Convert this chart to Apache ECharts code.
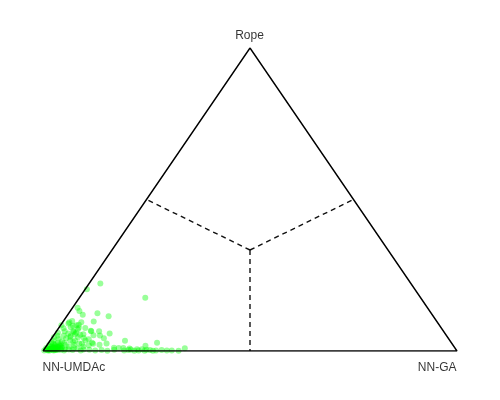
<!DOCTYPE html>
<html>
<head>
<meta charset="utf-8">
<script src="https://cdn.jsdelivr.net/npm/echarts@6/dist/echarts.min.js"></script>
<style>
  html, body { margin: 0; padding: 0; background: #fff; }
  #chart { width: 500px; height: 400px; }
</style>
</head>
<body>
<div id="chart"></div>
<script>
// corner labels (left, right, top)
const vertexNames = ['NN-UMDAc', 'NN-GA', 'Rope'];

// share of NN-GA and Rope for each run, in percent (NN-UMDAc = the rest)
const gaPct = [
  // dense cluster at the NN-UMDAc corner
  0.5, 1, 1.5, 2, 2.5, 3, 1, 2, 3, 3.5, 0.3, 1.2, 2.2, 4, 4.5, 0.8, 1.8, 3, 5, 5.5,
  0.5, 2.8, 3.8, 1.5, 2.5, 4.2, 6, 6.5, 1, 2.5, 3.5, 4.8, 0.4, 7, 5.8, 0.6, 2, 3.2, 4.2, 7.5,
  8, 1.2, 2.8, 5, 6.2, 0.2, 3.8, 8.5, 9, 9.5, 1.6, 4.8, 7, 0.8, 1.6, 2.4, 0.2, 1.8, 3.2, 0.6,
  1.2, 2.2, 3.4, 1.8, 2.6, 1.4, 2.9, 3.9, 1.1, 2.1,
  1.5, 2.3, 3.1, 2.7, 1.9, 3.5, 2.0, 2.8, 1.3, 3.3,
  // around the cluster
  3.1, 4.3, 6.4, 8.4, 4.3, 6.3, 7.7, 9.1, 9.6, 4.3, 6.0, 8.2, 10.1, 10.5,
  // scattered runs
  2.7, 15.9, 0.4, 1.2, 2.2, 3.6, 6.9, 10.1, 2.1, 1.6, 4.5, 7.4, 4.8, 8.2, 10.3, 13.2, 4.0, 5.0,
  11.2, 12.6, 18.1, 26.2, 14.1, 10.9, 12.6, 23.9, 33.8, 29.8, 16.6, 17.8, 18.9, 20.5, 22.4, 23.6,
  25.7, 32.7, 27.2, 20.5, 22, 24.5,
  // along the NN-UMDAc / NN-GA edge
  5, 7, 9, 11, 12.5, 14, 15.5, 17, 19.5, 21, 23, 24.8, 26.5, 28.5, 31
];
const ropePct = [
  0.5, 0.3, 0.8, 0.4, 1, 0.5, 1.5, 1.8, 1.2, 0.3, 1, 2.5, 2.8, 1, 2, 3.5, 4, 3.2, 0.6, 1.5,
  2, 2, 2.6, 0.2, 0.2, 0.4, 0.5, 2, 5, 5, 4.2, 3.5, 4.5, 1, 3, 6, 6.5, 5.8, 5, 2.5,
  0.8, 7.5, 7.8, 6, 4.5, 8.5, 8.5, 3.5, 1.5, 0.5, 9.5, 7.2, 5.5, 0.8, 1.2, 0.6, 0.2, 2.2, 2.2, 2.8,
  0.6, 1.1, 1.5, 0.9, 0.4, 1.6, 0.8, 1.2, 0.2, 1.4,
  0.7, 0.9, 0.6, 1.3, 1.0, 0.9, 0.5, 0.3, 0.4, 1.7,
  8.3, 8.7, 7.6, 6.5, 6.3, 5.4, 4.3, 3.9, 5.2, 4.6, 3.5, 2.4, 1.9, 2.7,
  22.3, 17.6, 20.4, 14.3, 13.2, 12.0, 12.5, 11.5, 9.9, 9.1, 9.5, 9.7, 7.7, 6.7, 6.5, 5.8, 6.6, 5.5,
  5.1, 4.2, 3.4, 2.7, 2.5, 2.4, 2.1, 1.7, 0.9, 0.2, 1.1, 1.0, 1.0, 0.8, 0.6, 0.6,
  0.3, 0.1, 0.2, 0.3, 0.1, 0.1,
  0.2, 0.3, 0.2, 0.4, 0.2, 0.3, 0.1, 0.4, 0.2, 0.5, 0.2, 0.4, 0.1, 0.3, 0.2
];

// ternary -> plane (x along the base, y towards the Rope corner)
function toXY(ga, rope) {
  return [ga + rope / 2, rope];
}

const pts = gaPct.map((g, i) => toXY(g, ropePct[i]));
const corners = [toXY(0, 0), toXY(100, 0), toXY(0, 100)];
const centre = toXY(100 / 3, 100 / 3);
const mids = [toXY(50, 0), toXY(0, 50), toXY(50, 50)];

const chart = echarts.init(document.getElementById('chart'));

const dashed = {
  type: 'line', symbol: 'none', silent: true, z: 4,
  lineStyle: { color: '#111', width: 1.4, type: [5, 4] }
};

chart.setOption({
  animation: false,
  backgroundColor: '#fff',
  grid: { left: 43, right: 43, top: 48, bottom: 49 },
  xAxis: { type: 'value', min: 0, max: 100, show: false },
  yAxis: { type: 'value', min: 0, max: 100, show: false },
  series: [
    {
      type: 'scatter',
      data: pts,
      symbolSize: 6,
      z: 2,
      itemStyle: {
        color: 'rgba(0,255,0,0.5)'
      }
    },
    {
      type: 'line',
      data: [corners[0], corners[1], corners[2], corners[0]],
      symbol: 'none',
      silent: true,
      z: 5,
      lineStyle: { color: '#000', width: 1.4 }
    },
    Object.assign({ data: [centre, mids[0]] }, dashed),
    Object.assign({ data: [centre, mids[1]] }, dashed),
    Object.assign({ data: [centre, mids[2]] }, dashed),
    {
      type: 'scatter',
      symbolSize: 1,
      silent: true,
      z: 6,
      itemStyle: { color: 'rgba(0,0,0,0)' },
      data: [
        { value: corners[0], name: vertexNames[0],
          label: { position: [0, 17], align: 'left' } },
        { value: corners[1], name: vertexNames[1],
          label: { position: [0, 17], align: 'right' } },
        { value: corners[2], name: vertexNames[2],
          label: { position: [0, -12], align: 'center' } }
      ],
      label: {
        show: true,
        formatter: '{b}',
        verticalAlign: 'middle',
        color: '#000',
        fontSize: 12,
        fontFamily: 'Liberation Sans, Arial, sans-serif'
      }
    }
  ]
});
</script>
</body>
</html>
